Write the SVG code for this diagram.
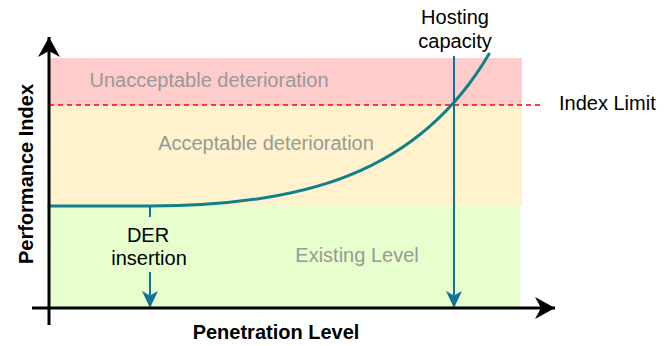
<svg xmlns="http://www.w3.org/2000/svg" width="672" height="346" viewBox="0 0 672 346">
  <style>
    text { font-family: "Liberation Sans", Arial, sans-serif; font-size: 20px; }
    .zone { fill: #999999; text-anchor: middle; }
    .lbl { fill: #000000; }
    .mid { text-anchor: middle; }
    .axis-title { font-weight: bold; text-anchor: middle; }
    .axis { stroke: #000000; stroke-width: 3; fill: none; }
    .pointer { stroke: #10739E; stroke-width: 2; fill: none; }
    .curve { stroke: #0E8088; stroke-width: 3; fill: none; stroke-linecap: round; }
    .limit { stroke: #FF0000; stroke-width: 1.5; stroke-dasharray: 5 4; fill: none; }
  </style>
  <defs>
    <marker id="axis-head" markerUnits="userSpaceOnUse" viewBox="0 0 20 22" markerWidth="20" markerHeight="22" refX="20" refY="11" orient="auto">
      <path d="M0,0 L20,11 L0,22 L6,11 Z" fill="#000000"/>
    </marker>
    <marker id="pointer-head" markerUnits="userSpaceOnUse" viewBox="0 0 17 16" markerWidth="17" markerHeight="16" refX="17" refY="8" orient="auto">
      <path d="M0,0 L17,8 L0,16 L4.5,8 Z" fill="#10739E"/>
    </marker>
  </defs>

  <!-- Bands -->
  <g id="band-unacceptable">
    <rect x="49" y="58" width="473" height="47" fill="#FFCCCC"/>
    <text class="zone" x="209" y="87">Unacceptable deterioration</text>
  </g>
  <g id="band-acceptable">
    <rect x="49" y="105" width="473" height="101" fill="#FFF2CC"/>
    <text class="zone" x="266" y="150">Acceptable deterioration</text>
  </g>
  <g id="band-existing">
    <rect x="49" y="206" width="471" height="102" fill="#E6FFCC"/>
    <text class="zone" x="357" y="262">Existing Level</text>
  </g>

  <!-- Index limit -->
  <g id="index-limit">
    <line class="limit" x1="49" y1="105" x2="541" y2="105"/>
    <text class="lbl" x="559" y="110">Index Limit</text>
  </g>

  <g id="connectors">
    <!-- Performance curve -->
    <path class="curve" d="M49,206 L150,206 C300,206 418,175 489,54"/>
    <!-- DER insertion pointer -->
    <line class="pointer" x1="150" y1="206" x2="150" y2="217"/>
    <line class="pointer" x1="150" y1="272" x2="150" y2="308" marker-end="url(#pointer-head)"/>
    <!-- Hosting capacity pointer -->
    <line class="pointer" x1="454" y1="56" x2="454" y2="308" marker-end="url(#pointer-head)"/>
    <!-- Axes -->
    <line class="axis" x1="49" y1="325" x2="49" y2="37" marker-end="url(#axis-head)"/>
    <line class="axis" x1="32" y1="308" x2="555" y2="308" marker-end="url(#axis-head)"/>
  </g>

  <g id="der-insertion">
    <text class="lbl mid" x="148" y="242">DER</text>
    <text class="lbl mid" x="149" y="265">insertion</text>
  </g>
  <g id="hosting-capacity">
    <text class="lbl mid" x="455" y="24">Hosting</text>
    <text class="lbl mid" x="455" y="48">capacity</text>
  </g>
  <g id="axis-x-title">
    <text class="axis-title" x="276" y="339">Penetration Level</text>
  </g>
  <g id="axis-y-title">
    <text class="axis-title" transform="translate(33,174) rotate(-90)">Performance Index</text>
  </g>
</svg>
